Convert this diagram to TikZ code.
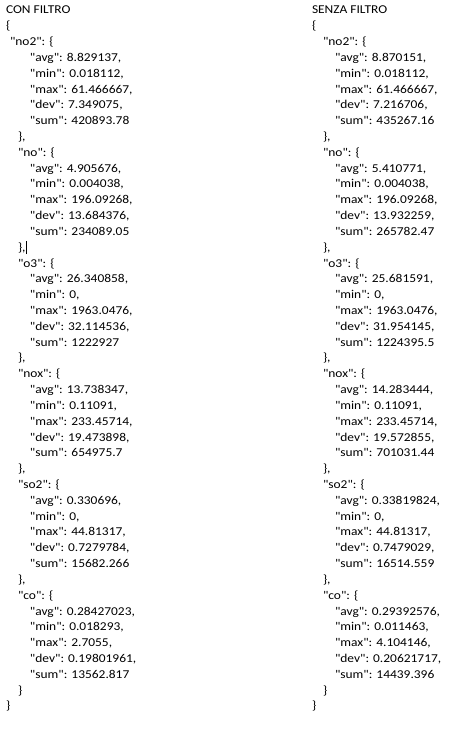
\documentclass[tikz,border=0pt]{standalone}
\usepackage{fontspec}
\newfontfamily\jsonfont{Carlito}[FakeStretch=1.12]
\newcommand\jl[4]{\node[txt] (#1) at (#2,{-13.9-15.82*#3}) {#4};}
\tikzset{
  txt/.style={anchor=base west, inner sep=0pt, outer sep=0pt, text=black,
    font=\jsonfont\fontsize{12}{14}\selectfont},
  caretline/.style={draw=black, line width=0.6pt}
}
\begin{document}
\begin{tikzpicture}[x=1pt,y=1pt]
\fill[white] (0,0) rectangle (452,-729);
\useasboundingbox (0,0) rectangle (452,-729);
% ---------- left column ----------
\jl{l0}{6}{0}{CON FILTRO}
\jl{l1}{6}{1}{\{}
\jl{l2}{10}{2}{"no2": \{}
\jl{l3}{30}{3}{"avg": 8.829137,}
\jl{l4}{30}{4}{"min": 0.018112,}
\jl{l5}{30}{5}{"max": 61.466667,}
\jl{l6}{30}{6}{"dev": 7.349075,}
\jl{l7}{30}{7}{"sum": 420893.78}
\jl{l8}{18}{8}{\},}
\jl{l9}{18}{9}{"no": \{}
\jl{l10}{30}{10}{"avg": 4.905676,}
\jl{l11}{30}{11}{"min": 0.004038,}
\jl{l12}{30}{12}{"max": 196.09268,}
\jl{l13}{30}{13}{"dev": 13.684376,}
\jl{l14}{30}{14}{"sum": 234089.05}
\jl{l15}{18}{15}{\},}
\jl{l16}{18}{16}{"o3": \{}
\jl{l17}{30}{17}{"avg": 26.340858,}
\jl{l18}{30}{18}{"min": 0,}
\jl{l19}{30}{19}{"max": 1963.0476,}
\jl{l20}{30}{20}{"dev": 32.114536,}
\jl{l21}{30}{21}{"sum": 1222927}
\jl{l22}{18}{22}{\},}
\jl{l23}{18}{23}{"nox": \{}
\jl{l24}{30}{24}{"avg": 13.738347,}
\jl{l25}{30}{25}{"min": 0.11091,}
\jl{l26}{30}{26}{"max": 233.45714,}
\jl{l27}{30}{27}{"dev": 19.473898,}
\jl{l28}{30}{28}{"sum": 654975.7}
\jl{l29}{18}{29}{\},}
\jl{l30}{18}{30}{"so2": \{}
\jl{l31}{30}{31}{"avg": 0.330696,}
\jl{l32}{30}{32}{"min": 0,}
\jl{l33}{30}{33}{"max": 44.81317,}
\jl{l34}{30}{34}{"dev": 0.7279784,}
\jl{l35}{30}{35}{"sum": 15682.266}
\jl{l36}{18}{36}{\},}
\jl{l37}{18}{37}{"co": \{}
\jl{l38}{30}{38}{"avg": 0.28427023,}
\jl{l39}{30}{39}{"min": 0.018293,}
\jl{l40}{30}{40}{"max": 2.7055,}
\jl{l41}{30}{41}{"dev": 0.19801961,}
\jl{l42}{30}{42}{"sum": 13562.817}
\jl{l43}{18}{43}{\}}
\jl{l44}{6}{44}{\}}
% text cursor
\draw[caretline] ([xshift=0.8pt,yshift=-3pt]l15.base east) -- ([xshift=0.8pt,yshift=10pt]l15.base east);
% ---------- right column ----------
\jl{r0}{312}{0}{SENZA FILTRO}
\jl{r1}{312}{1}{\{}
\jl{r2}{323}{2}{"no2": \{}
\jl{r3}{335}{3}{"avg": 8.870151,}
\jl{r4}{335}{4}{"min": 0.018112,}
\jl{r5}{335}{5}{"max": 61.466667,}
\jl{r6}{335}{6}{"dev": 7.216706,}
\jl{r7}{335}{7}{"sum": 435267.16}
\jl{r8}{323}{8}{\},}
\jl{r9}{323}{9}{"no": \{}
\jl{r10}{335}{10}{"avg": 5.410771,}
\jl{r11}{335}{11}{"min": 0.004038,}
\jl{r12}{335}{12}{"max": 196.09268,}
\jl{r13}{335}{13}{"dev": 13.932259,}
\jl{r14}{335}{14}{"sum": 265782.47}
\jl{r15}{323}{15}{\},}
\jl{r16}{323}{16}{"o3": \{}
\jl{r17}{335}{17}{"avg": 25.681591,}
\jl{r18}{335}{18}{"min": 0,}
\jl{r19}{335}{19}{"max": 1963.0476,}
\jl{r20}{335}{20}{"dev": 31.954145,}
\jl{r21}{335}{21}{"sum": 1224395.5}
\jl{r22}{323}{22}{\},}
\jl{r23}{323}{23}{"nox": \{}
\jl{r24}{335}{24}{"avg": 14.283444,}
\jl{r25}{335}{25}{"min": 0.11091,}
\jl{r26}{335}{26}{"max": 233.45714,}
\jl{r27}{335}{27}{"dev": 19.572855,}
\jl{r28}{335}{28}{"sum": 701031.44}
\jl{r29}{323}{29}{\},}
\jl{r30}{323}{30}{"so2": \{}
\jl{r31}{335}{31}{"avg": 0.33819824,}
\jl{r32}{335}{32}{"min": 0,}
\jl{r33}{335}{33}{"max": 44.81317,}
\jl{r34}{335}{34}{"dev": 0.7479029,}
\jl{r35}{335}{35}{"sum": 16514.559}
\jl{r36}{323}{36}{\},}
\jl{r37}{323}{37}{"co": \{}
\jl{r38}{335}{38}{"avg": 0.29392576,}
\jl{r39}{335}{39}{"min": 0.011463,}
\jl{r40}{335}{40}{"max": 4.104146,}
\jl{r41}{335}{41}{"dev": 0.20621717,}
\jl{r42}{335}{42}{"sum": 14439.396}
\jl{r43}{323}{43}{\}}
\jl{r44}{312}{44}{\}}
\end{tikzpicture}
\end{document}
